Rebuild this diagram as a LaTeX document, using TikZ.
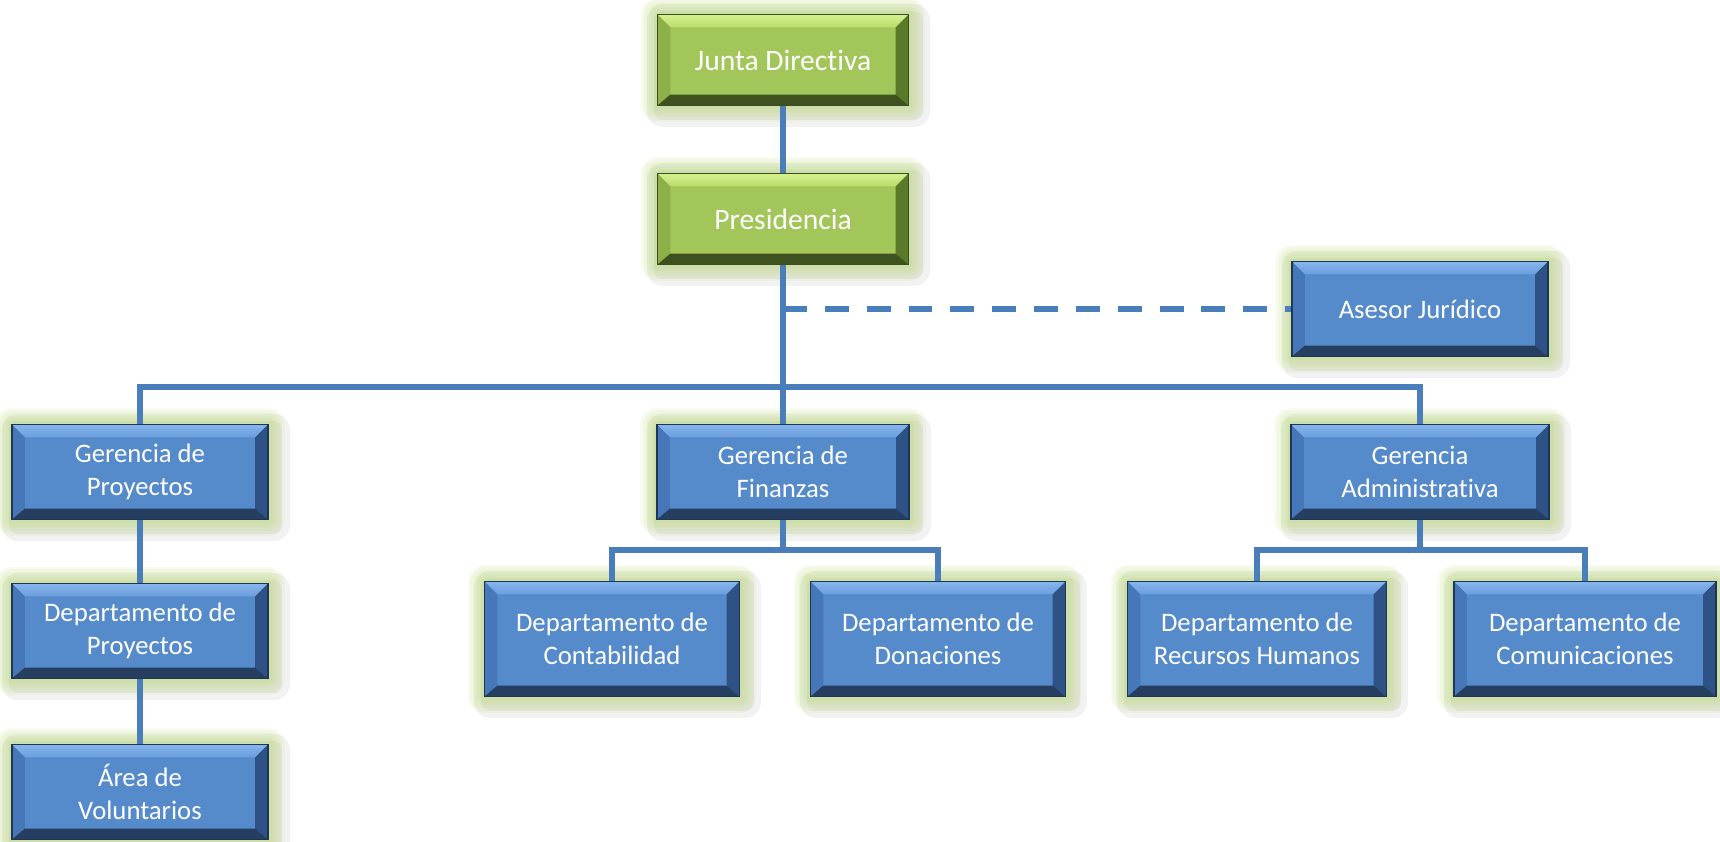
\documentclass[tikz,border=0pt]{standalone}
\usepackage{fontspec}
\setmainfont{Carlito}[Ligatures=NoCommon]
\definecolor{bluface}{HTML}{558ACB}
\definecolor{blutop}{HTML}{86B6EE}
\definecolor{blutopb}{HTML}{6A9DDB}
\definecolor{bluleft}{HTML}{4677B8}
\definecolor{bluright}{HTML}{2E5186}
\definecolor{blubot}{HTML}{263F60}
\definecolor{bluedge}{HTML}{1F3556}
\definecolor{grnface}{HTML}{A2C65A}
\definecolor{grntop}{HTML}{D6F28E}
\definecolor{grntopb}{HTML}{B8DA6C}
\definecolor{grnleft}{HTML}{8DB04A}
\definecolor{grnright}{HTML}{5A7A2A}
\definecolor{grnbot}{HTML}{3E5220}
\definecolor{grnedge}{HTML}{3A4D1E}
\definecolor{glowc}{HTML}{B4D66A}
\definecolor{linkc}{HTML}{4A7EBB}

% bevel: top, left, right, bottom
\newcommand{\bevel}[4]{%
  \path (path picture bounding box.north west) coordinate (bnw)
        (path picture bounding box.north east) coordinate (bne)
        (path picture bounding box.south west) coordinate (bsw)
        (path picture bounding box.south east) coordinate (bse);
  \path ([shift={(.13cm,-.13cm)}]bnw) coordinate (inw)
        ([shift={(-.13cm,-.13cm)}]bne) coordinate (ine)
        ([shift={(.13cm,.11cm)}]bsw) coordinate (isw)
        ([shift={(-.13cm,.11cm)}]bse) coordinate (ise);
  \fill[#1] (bnw) -- (bne) -- (ine) -- (inw) -- cycle;
  \fill[#2] (bnw) -- (inw) -- (isw) -- (bsw) -- cycle;
  \fill[#3] (bne) -- (bse) -- (ise) -- (ine) -- cycle;
  \fill[#4] (bsw) -- (isw) -- (ise) -- (bse) -- cycle;
}

\tikzset{
  halo/.style={preaction={draw=glowc, opacity=.1, line width=#1, line join=round}},
  shade off/.style={preaction={draw=black, opacity=.05, line width=#1, line join=round,
      transform canvas={xshift=1.6pt, yshift=-1.6pt}}},
  glow/.style={shade off=9pt, shade off=5pt,
    halo=9.5pt, halo=8pt, halo=6.5pt, halo=5pt, halo=3.5pt, halo=2pt},
  unitbox/.style={glow, line width=.4pt, text=white, align=center,
    font=\fontsize{7.6}{9.5}\selectfont, inner sep=0pt,
    minimum width=2.56cm, minimum height=.95cm},
  bluebox/.style={unitbox, fill=bluface, draw=bluedge,
    path picture={\bevel{top color=blutop, bottom color=blutopb}{bluleft}{bluright}{blubot}}},
  greenbox/.style={unitbox, fill=grnface, draw=grnedge,
    font=\fontsize{8.4}{10}\selectfont,
    minimum width=2.51cm, minimum height=.91cm,
    path picture={\bevel{top color=grntop, bottom color=grntopb}{grnleft}{grnright}{grnbot}}},
  deptbox/.style={bluebox, minimum height=1.15cm},
  link/.style={draw=linkc, line width=1.6pt},
}

\begin{document}
\begin{tikzpicture}[x=0.01cm, y=-0.01cm]
  \useasboundingbox (0,0) rectangle (1720,842);

  \node[greenbox] (junta) at (783,60) {Junta Directiva};
  \node[greenbox] (pres) at (783,219) {Presidencia};
  \node[bluebox] (asesor) at (1420,309) {Asesor Jurídico};

  \node[bluebox] (gproy) at (140,472) {Gerencia de\\Proyectos};
  \node[bluebox, minimum width=2.52cm] (gfin) at (783,472) {Gerencia de\\Finanzas};
  \node[bluebox, minimum width=2.58cm] (gadm) at (1420,472) {Gerencia\\Administrativa};

  \node[bluebox] (dproy) at (140,631) {Departamento de\\Proyectos};
  \node[bluebox] (avol) at (140,792) {Área de\\Voluntarios};

  \node[deptbox, minimum width=2.55cm] (contab) at (612,639) {Departamento de\\Contabilidad};
  \node[deptbox, minimum width=2.55cm] (donac) at (938,639) {Departamento de\\Donaciones};
  \node[deptbox, minimum width=2.59cm] (rrhh) at (1257,639) {Departamento de\\Recursos Humanos};
  \node[deptbox, minimum width=2.62cm] (comun) at (1585,639) {Departamento de\\Comunicaciones};

  \coordinate (jur) at (783,309);
  \coordinate (bus) at (783,387);
  \coordinate (fbus) at (783,550);
  \coordinate (abus) at (1420,550);

  \begin{scope}[link]
    \draw (junta) -- (pres);
    \draw (pres) -- (gfin);
    \draw (gproy) |- (bus) -| (gadm);
    \draw[dash pattern=on 6.8pt off 5.1pt] (jur) -- (asesor);
    \draw (gproy) -- (dproy);
    \draw (dproy) -- (avol);
    \draw (gfin) -- (fbus);
    \draw (contab) |- (fbus) -| (donac);
    \draw (gadm) -- (abus);
    \draw (rrhh) |- (abus) -| (comun);
  \end{scope}
\end{tikzpicture}
\end{document}
